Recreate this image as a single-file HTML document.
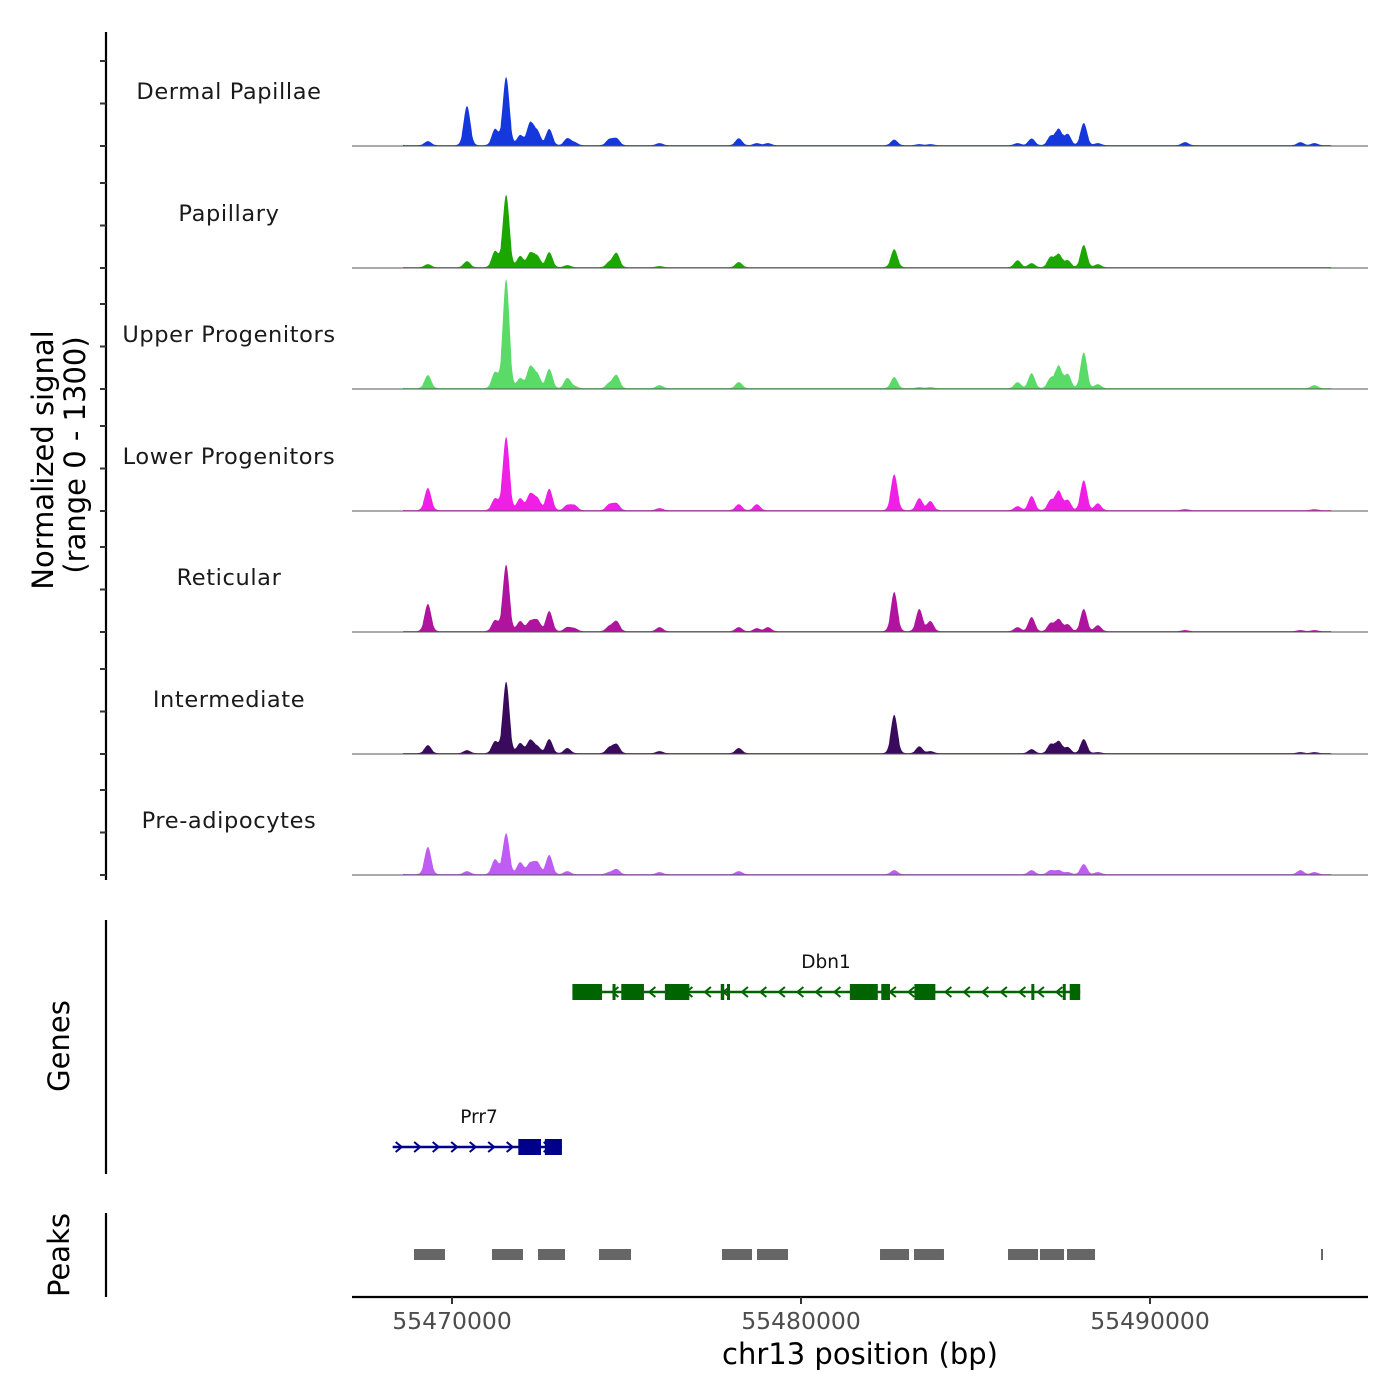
<!DOCTYPE html>
<html><head><meta charset="utf-8">
<style>
html,body{margin:0;padding:0;background:#fff;}
svg{display:block;font-family:"DejaVu Sans","Liberation Sans",sans-serif;}
</style></head>
<body>
<svg id="chart" width="1400" height="1400" viewBox="0 0 1400 1400">
  <g id="tracks"></g>
  <line x1="106" y1="32" x2="106" y2="880" stroke="#000" stroke-width="2.2"/>
  <g id="yticks"></g>
  <text transform="translate(53,460) rotate(-90)" text-anchor="middle" font-size="29">Normalized signal</text>
  <text transform="translate(85,455) rotate(-90)" text-anchor="middle" font-size="29">(range 0 - 1300)</text>

  <line x1="106" y1="920" x2="106" y2="1174" stroke="#000" stroke-width="2.2"/>
  <text transform="translate(69,1046) rotate(-90)" text-anchor="middle" font-size="29">Genes</text>
  <g id="genes"></g>

  <line x1="106" y1="1213" x2="106" y2="1297" stroke="#000" stroke-width="2.2"/>
  <text transform="translate(69,1255) rotate(-90)" text-anchor="middle" font-size="29">Peaks</text>
  <g id="peaks"></g>

  <line x1="352" y1="1297" x2="1368" y2="1297" stroke="#000" stroke-width="2.2"/>
  <g id="xticks"></g>
  <text x="860" y="1364" text-anchor="middle" font-size="29">chr13 position (bp)</text>
</svg>
<script>
// ---- data ----
const trackNames = ["Dermal Papillae","Papillary","Upper Progenitors","Lower Progenitors","Reticular","Intermediate","Pre-adipocytes"];
const trackColors = ["#1438DC","#1CA600","#5ADB68","#F01FE6","#B0149F","#3A0A5C","#BE5CF4"];
// peak centres (bp)
const peakPos = [55468420,55469310,55470431,55471236,55471552,55471954,55472241,55472443,55472787,55473305,55473506,55474511,55474713,55475948,55478218,55478736,55479052,55482672,55483391,55483707,55486207,55486609,55487155,55487385,55487644,55488103,55488506,55491006,55494310,55494713];
// signal values (0-1300) per track at each peak position
const sigDP  = [24,47,460,190,800,118,260,165,190,80,35,70,80,24,80,24,24,65,12,12,24,78,106,188,130,260,24,35,35,24];
const sigPap = [0,35,70,190,850,130,165,130,175,24,0,60,165,12,60,0,0,210,0,0,80,47,118,153,80,260,35,0,0,0];
const sigUp  = [35,153,0,190,1280,118,250,165,225,118,24,60,153,35,70,0,0,130,12,12,70,175,118,260,165,420,47,0,0,35];
const sigLow = [24,260,0,140,860,140,190,140,250,60,60,70,80,24,70,70,0,420,140,106,47,165,118,225,118,350,80,12,0,12];
const sigRet = [0,320,0,130,780,118,118,130,235,47,35,60,118,47,47,35,47,460,260,118,47,165,94,140,80,260,70,12,12,12];
const sigInt = [0,94,35,140,840,118,153,80,165,60,0,70,106,24,60,0,0,450,80,24,0,47,106,140,70,165,12,0,12,12];
const sigPre = [35,320,35,175,480,140,130,140,225,35,0,24,60,24,35,0,0,47,0,0,0,47,47,47,24,118,24,0,47,24];
const signals = [sigDP,sigPap,sigUp,sigLow,sigRet,sigInt,sigPre];
const yTickVals = [0,500,1000];
const xTickVals = [55470000,55480000,55490000];
const xTickLabels = ["55470000","55480000","55490000"];
// genes
const dbn1Start = 55473450, dbn1End = 55488000;
const dbn1Exons = [[55473450,55474300],[55474600,55474680],[55474850,55475500],[55476100,55476800],[55477700,55477800],[55477880,55477960],[55481400,55482200],[55482300,55482550],[55483250,55483850],[55486600,55486660],[55487500,55487560],[55487700,55488000]];
const prr7Start = 55468300, prr7End = 55473150;
const prr7Exons = [[55471900,55472550],[55472660,55473150]];
// peaks
const peakStarts = [55468911,55471146,55472464,55474212,55477736,55478739,55482264,55483238,55485931,55486848,55487622,55494900];
const peakEnds   = [55469799,55472034,55473238,55475129,55478596,55479628,55483095,55484097,55486791,55487536,55488424,55494957];

// ---- scales ----
const X0 = 55470000, PX0 = 452, PXPERBP = 349/10000;
function xs(bp){ return PX0 + (bp - X0) * PXPERBP; }
const baselines = [146,268,389,511,632,754,875];
const PXPERUNIT = 0.085;
function ys(v, base){ return base - v * PXPERUNIT; }

const NS = "http://www.w3.org/2000/svg";
function mk(tag, attrs, parent){ const e=document.createElementNS(NS,tag); for(const k in attrs) e.setAttribute(k,attrs[k]); parent.appendChild(e); return e; }

// ---- tracks ----
const tracksG = document.getElementById('tracks');
const dataStart = xs(55468600), dataEnd = xs(55495200);
const sigma = 4.2;
signals.forEach((vals, t) => {
  const base = baselines[t];
  let d = "M" + dataStart + "," + base;
  for (let px = dataStart; px <= dataEnd; px += 0.5) {
    let s = 10;
    for (let i = 0; i < peakPos.length; i++) {
      const c = xs(peakPos[i]); const dx = (px - c) / sigma;
      if (Math.abs(dx) < 6) s += vals[i] * Math.exp(-dx*dx*0.8) * (Math.abs(dx) < 1.2 ? 1 : 0.85);
    }
    d += "L" + px.toFixed(1) + "," + ys(s, base).toFixed(2);
  }
  d += "L" + dataEnd + "," + base + "Z";
  const p = mk('path', {d:d, fill:trackColors[t]}, tracksG);
  
  
  const bl = mk('line', {x1:352, x2:1368, y1:base, y2:base, stroke:'#555', 'stroke-width':1.1}, tracksG);
  
  
  const lab = mk('text', {x:229, y:base-47, 'text-anchor':'middle', 'font-size':22.5, 'letter-spacing':0.6, fill:'#1a1a1a'}, tracksG);
  lab.textContent = trackNames[t];
  
  
});

// y ticks
const ytG = document.getElementById('yticks');
baselines.forEach(base => {
  yTickVals.forEach(v => {
    const y = ys(v, base);
    const l = mk('line', {x1:100, x2:106, y1:y, y2:y, stroke:'#333', 'stroke-width':2}, ytG);
    
    
  });
});

// x ticks
const xtG = document.getElementById('xticks');
xTickVals.forEach((v, i) => {
  const x = xs(v);
  const l = mk('line', {x1:x, x2:x, y1:1297, y2:1304, stroke:'#333', 'stroke-width':2}, xtG);
  
  
  const t = mk('text', {x:x, y:1329, 'text-anchor':'middle', 'font-size':23.5, fill:'#4d4d4d'}, xtG);
  t.textContent = xTickLabels[i];
  
  
});

// genes
const gG = document.getElementById('genes');
function drawGene(name, s, e, exons, y, color, strand, labelX){
  const g = mk('g', {}, gG);
  
  
  mk('line', {x1:xs(s), x2:xs(e), y1:y, y2:y, stroke:color, 'stroke-width':2.5}, g);
  const a = xs(s), b = xs(e);
  for (let x = a + 6; x < b - 4; x += 18.5) {
    const d = strand > 0 ? `M${x-3},${y-5}L${x+3},${y}L${x-3},${y+5}` : `M${x+3},${y-5}L${x-3},${y}L${x+3},${y+5}`;
    mk('path', {d:d, stroke:color, fill:'none', 'stroke-width':2}, g);
  }
  exons.forEach(ex => {
    const r = mk('rect', {x:xs(ex[0]), y:y-8, width:Math.max(3, xs(ex[1])-xs(ex[0])), height:16, fill:color}, g);
    
    
  });
  const t = mk('text', {x:labelX, y:y-24, 'text-anchor':'middle', 'font-size':18.5, fill:'#111'}, g);
  t.textContent = name;
  
  
}
drawGene('Dbn1', dbn1Start, dbn1End, dbn1Exons, 992, '#006400', -1, 826);
drawGene('Prr7', prr7Start, prr7End, prr7Exons, 1147, '#00008B', 1, 479);

// peaks
const pG = document.getElementById('peaks');
peakStarts.forEach((s, i) => {
  const r = mk('rect', {x:xs(s), y:1249, width:Math.max(2, xs(peakEnds[i])-xs(s)), height:11, fill:'#666'}, pG);
  
  
});
</script>
</body></html>
